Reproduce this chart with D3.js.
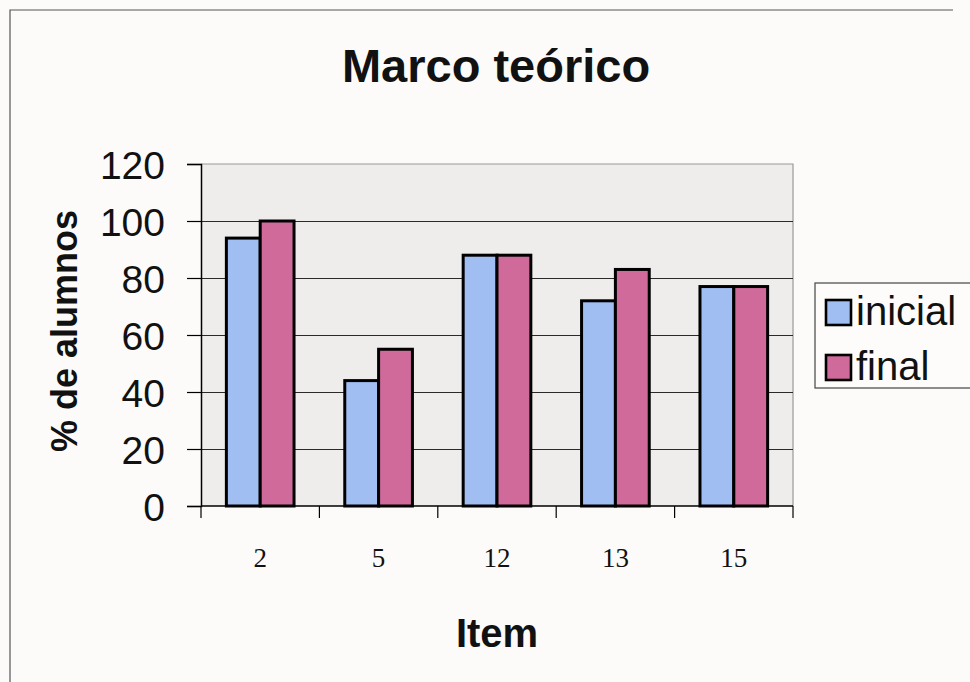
<!DOCTYPE html>
<html>
<head>
<meta charset="utf-8">
<script src="https://cdn.jsdelivr.net/npm/d3@7/dist/d3.min.js"></script>
<style>
  html, body { margin: 0; padding: 0; background: #fcfbf9; }
  svg { display: block; }
</style>
</head>
<body>
<svg id="chart" width="970" height="682"></svg>
<script>
// Data
const items = ["2", "5", "12", "13", "15"];
const seriesNames = ["inicial", "final"];
const inicial = [94, 44, 88, 72, 77];
const final = [100, 55, 88, 83, 77];
const yTicks = [0, 20, 40, 60, 80, 100, 120];

const colors = { inicial: "#a1bef3", final: "#cf6a9b" };

const svg = d3.select("#chart");
const plot = { left: 201, right: 793, top: 164, bottom: 506 };

// Outer frame (top and left edges)
svg.append("path")
  .attr("d", `M10,682 L10,10 L953,10`)
  .attr("fill", "none")
  .attr("stroke", "#555")
  .attr("stroke-width", 1.2);

// Scales
const x = d3.scaleBand()
  .domain(items)
  .range([plot.left, plot.right])
  .paddingInner(1.5 / 3.5)
  .paddingOuter(0.75 / 3.5);

const xSeries = d3.scaleBand()
  .domain(seriesNames)
  .range([0, x.bandwidth()])
  .padding(0);

const y = d3.scaleLinear()
  .domain([0, 120])
  .range([plot.bottom, plot.top]);

// Plot area background
svg.append("rect")
  .attr("x", plot.left)
  .attr("y", plot.top)
  .attr("width", plot.right - plot.left)
  .attr("height", plot.bottom - plot.top)
  .attr("fill", "#efecec");

// Top and right plot borders
svg.append("path")
  .attr("d", `M${plot.left},${plot.top} L${plot.right},${plot.top} L${plot.right},${plot.bottom}`)
  .attr("fill", "none")
  .attr("stroke", "#9a9a9a")
  .attr("stroke-width", 1.2);

// Horizontal gridlines
const grid = svg.append("g")
  .attr("transform", `translate(${plot.left},0)`)
  .call(d3.axisLeft(y).tickValues(yTicks.filter(v => v > 0 && v < 120)).tickSize(-(plot.right - plot.left)).tickFormat(""));
grid.select(".domain").remove();
grid.selectAll("line").attr("stroke", "#2a2a2a").attr("stroke-width", 1);

// Bars
const rows = items.map((it, i) => ({ item: it, values: [
  { key: "inicial", value: inicial[i] },
  { key: "final", value: final[i] }
]}));

const groups = svg.append("g").selectAll("g")
  .data(rows)
  .join("g")
  .attr("transform", d => `translate(${x(d.item)},0)`);

groups.selectAll("rect")
  .data(d => d.values)
  .join("rect")
  .attr("x", d => xSeries(d.key))
  .attr("y", d => y(d.value))
  .attr("width", xSeries.bandwidth())
  .attr("height", d => y(0) - y(d.value))
  .attr("fill", d => colors[d.key])
  .attr("stroke", "#000")
  .attr("stroke-width", 3);

// Y axis
const yAxis = svg.append("g")
  .attr("transform", `translate(${plot.left},0)`)
  .call(d3.axisLeft(y).tickValues(yTicks).tickSize(14).tickPadding(22).tickFormat(d3.format("d")));
yAxis.select(".domain").attr("stroke", "#000").attr("stroke-width", 1.5);
yAxis.selectAll(".tick line").attr("stroke", "#000").attr("stroke-width", 1.2);
yAxis.selectAll("text")
  .attr("font-family", "Liberation Sans, Arial, sans-serif")
  .attr("font-size", 39)
  .attr("fill", "#111")
  .attr("dy", "0.36em");

// X axis: labels under each category, ticks on category boundaries
const xAxis = svg.append("g")
  .attr("transform", `translate(0,${plot.bottom})`)
  .call(d3.axisBottom(x).tickSize(0).tickPadding(42));
xAxis.select(".domain").remove();
xAxis.selectAll("text")
  .attr("font-family", "Liberation Serif, Times New Roman, serif")
  .attr("font-size", 27)
  .attr("fill", "#111");

svg.append("line")
  .attr("x1", plot.left).attr("x2", plot.right)
  .attr("y1", plot.bottom).attr("y2", plot.bottom)
  .attr("stroke", "#000").attr("stroke-width", 1.5);

const boundaries = items.map(d => x(d) - x.step() * x.paddingInner() / 2).concat([plot.right]);
svg.append("g").selectAll("line")
  .data(boundaries)
  .join("line")
  .attr("x1", d => d).attr("x2", d => d)
  .attr("y1", plot.bottom).attr("y2", plot.bottom + 12)
  .attr("stroke", "#000").attr("stroke-width", 1.2);

// Titles
svg.append("text")
  .attr("x", 496).attr("y", 82)
  .attr("text-anchor", "middle")
  .attr("font-family", "Liberation Sans, Arial, sans-serif")
  .attr("font-weight", "bold")
  .attr("font-size", 47)
  .attr("fill", "#111")
  .text("Marco teórico");

svg.append("text")
  .attr("x", 497).attr("y", 647)
  .attr("text-anchor", "middle")
  .attr("font-family", "Liberation Sans, Arial, sans-serif")
  .attr("font-weight", "bold")
  .attr("font-size", 40)
  .attr("fill", "#111")
  .text("Item");

svg.append("text")
  .attr("transform", `translate(77,${(plot.top + plot.bottom) / 2 - 4}) rotate(-90)`)
  .attr("text-anchor", "middle")
  .attr("font-family", "Liberation Sans, Arial, sans-serif")
  .attr("font-weight", "bold")
  .attr("font-size", 36)
  .attr("fill", "#111")
  .text("% de alumnos");

// Legend
const legend = svg.append("g").attr("transform", "translate(815,283)");
legend.append("rect")
  .attr("width", 160).attr("height", 105)
  .attr("fill", "#fdfcfb")
  .attr("stroke", "#444").attr("stroke-width", 1.2);

const entries = legend.selectAll("g")
  .data(seriesNames)
  .join("g")
  .attr("transform", (d, i) => `translate(11,${17 + i * 55})`);
entries.append("rect")
  .attr("width", 25).attr("height", 25)
  .attr("fill", d => colors[d])
  .attr("stroke", "#000").attr("stroke-width", 2.6);
entries.append("text")
  .attr("x", 30).attr("y", 25)
  .attr("font-family", "Liberation Sans, Arial, sans-serif")
  .attr("font-size", 40)
  .attr("fill", "#111")
  .text(d => d);
</script>
</body>
</html>
